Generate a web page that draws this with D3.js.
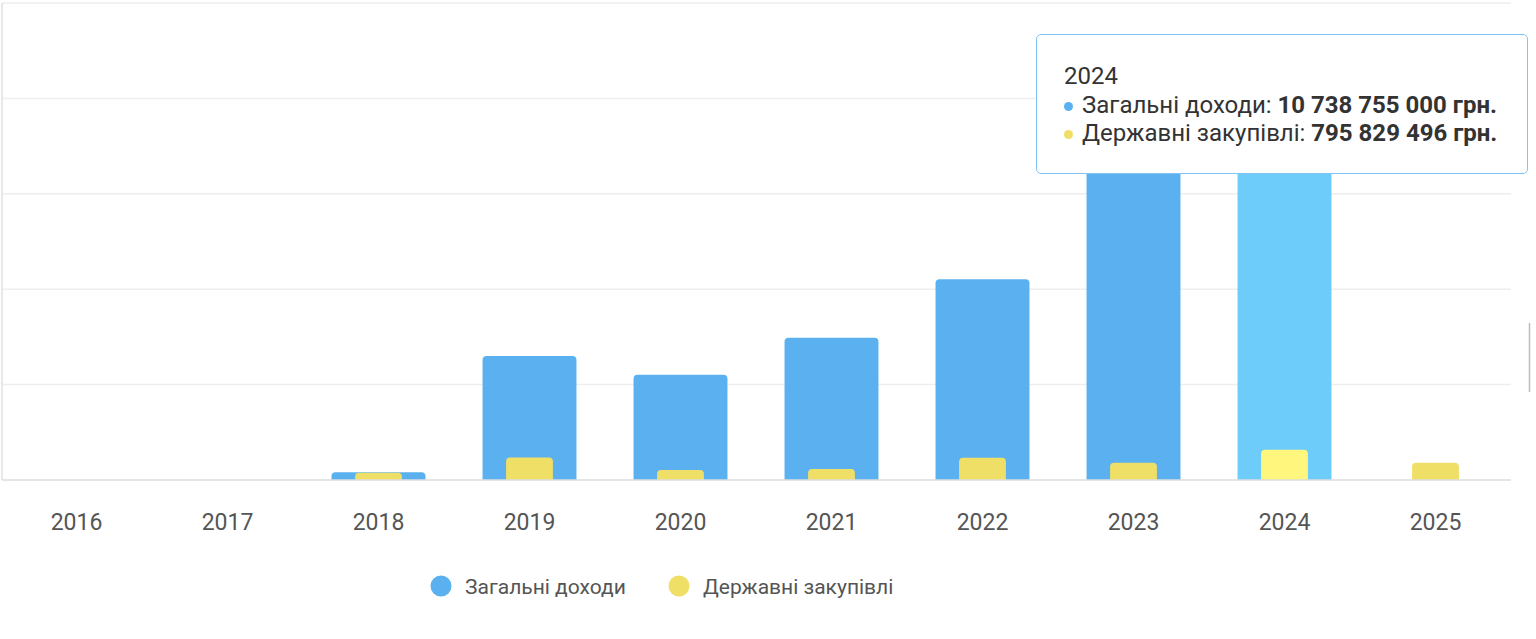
<!DOCTYPE html>
<html>
<head>
<meta charset="utf-8">
<script src="https://cdn.jsdelivr.net/npm/d3@7"></script>
<style>
  html, body { margin: 0; padding: 0; background: #fff; }
  body { width: 1536px; height: 639px; overflow: hidden; position: relative; font-family: Roboto, "Noto Sans", sans-serif; }
  #tooltip {
    position: absolute; left: 1036px; top: 34px; width: 492px; height: 140px;
    box-sizing: border-box; border: 1.5px solid #7fc4f4; border-radius: 5px; background: #fff;
    padding: 27px 0 0 27px; font-size: 24px; line-height: 28.5px; color: #333;
  }
  #tooltip .dot { display: inline-block; width: 9px; height: 9px; border-radius: 50%; margin-right: 9px; vertical-align: 2px; }
  #tooltip b { font-weight: 700; }
</style>
</head>
<body>
<svg id="chart" width="1536" height="639"></svg>
<div id="tooltip"></div>
<script>
// years on the x axis
const years = ["2016", "2017", "2018", "2019", "2020", "2021", "2022", "2023", "2024", "2025"];
// total income, UAH (2023 is hidden by the tooltip, estimated)
const incomeValues = [0, 0, 0.20e9, 3.25e9, 2.76e9, 3.73e9, 5.26e9, 9.0e9, 10738755000, 0];
// public procurement, UAH
const procurementValues = [0, 0, 0.19e9, 0.59e9, 0.26e9, 0.29e9, 0.58e9, 0.45e9, 795829496, 0.45e9];
const seriesNames = ["Загальні доходи", "Державні закупівлі"];
const seriesColors = ["#5bb1ef", "#f0df66"];
const hoverColors = ["#6dccf9", "#fff77d"];
const yTicks = [0, 2.5e9, 5e9, 7.5e9, 10e9, 12.5e9];
const hoveredYear = "2024";

const svg = d3.select("#chart");

// Set up the scales
const x = d3.scaleBand().domain(years).range([1, 1511]).padding(0);
const y = d3.scaleLinear().domain([0, 12.5e9]).range([480, 3]);

// Grid lines
svg.append("g")
  .selectAll("line")
  .data(yTicks.slice(1))
  .enter()
  .append("line")
  .attr("x1", 2).attr("x2", 1511)
  .attr("y1", d => y(d)).attr("y2", d => y(d))
  .attr("stroke", "#eeeeee")
  .attr("stroke-width", 1.5);

// left edge line
svg.append("line")
  .attr("x1", 2).attr("x2", 2)
  .attr("y1", y(12.5e9)).attr("y2", y(0))
  .attr("stroke", "#e8e8e8")
  .attr("stroke-width", 2);

// bar path with rounded top corners only
function topRounded(x0, y0, w, h, r)
{
  if (h <= 0) return "";
  r = Math.min(r, h, w / 2);
  return `M${ x0 },${ y0 + h }V${ y0 + r }Q${ x0 },${ y0 } ${ x0 + r },${ y0 }H${ x0 + w - r }Q${ x0 + w },${ y0 } ${ x0 + w },${ y0 + r }V${ y0 + h }Z`;
}

const bw = x.bandwidth();
const series = [
  { values: incomeValues, width: bw * 0.622 },
  { values: procurementValues, width: bw * 0.31 }
];

series.forEach((s, si) =>
{
  svg.append("g")
    .selectAll("path")
    .data(years.map((yr, i) => ({ year: yr, value: s.values[i] })))
    .enter()
    .append("path")
    .attr("d", d =>
    {
      const cx = x(d.year) + bw / 2;
      return topRounded(cx - s.width / 2, y(d.value), s.width, y(0) - y(d.value), 4);
    })
    .attr("fill", d => d.year === hoveredYear ? hoverColors[si] : seriesColors[si]);
});

// baseline
svg.append("line")
  .attr("x1", 2).attr("x2", 1511)
  .attr("y1", y(0)).attr("y2", y(0))
  .attr("stroke", "#dddddd")
  .attr("stroke-width", 1.5);

// x axis labels
const xAxis = d3.axisBottom(x).tickSize(0).tickPadding(34);
const gx = svg.append("g")
  .attr("transform", `translate(0, ${ y(0) })`)
  .call(xAxis);
gx.select(".domain").remove();
gx.selectAll("text")
  .style("font-family", "Roboto, sans-serif")
  .style("font-size", "23px")
  .attr("fill", "#555");

// Legend
const legend = svg.append("g");
const legendItems = [{ cx: 441, tx: 465 }, { cx: 679, tx: 703 }];
seriesNames.forEach((name, i) =>
{
  legend.append("circle")
    .attr("cx", legendItems[i].cx).attr("cy", 586).attr("r", 10.5)
    .attr("fill", seriesColors[i]);
  legend.append("text")
    .attr("x", legendItems[i].tx).attr("y", 594)
    .text(name)
    .style("font-family", "Roboto, sans-serif")
    .style("font-size", "21px")
    .attr("fill", "#555");
});

// small scroll marker on the right edge
svg.append("line")
  .attr("x1", 1529.5).attr("x2", 1529.5)
  .attr("y1", 323).attr("y2", 392)
  .attr("stroke", "#bdbdbd")
  .attr("stroke-width", 1.5);

// Tooltip for the hovered year
const fmt = v => d3.format(",")(Math.round(v)).replace(/,/g, " ");
const hi = years.indexOf(hoveredYear);
const tip = d3.select("#tooltip");
tip.append("div").text(hoveredYear);
[incomeValues, procurementValues].forEach((vals, i) =>
{
  const row = tip.append("div");
  row.append("span").attr("class", "dot").style("background", seriesColors[i]);
  row.append("span").text(seriesNames[i] + ": ");
  row.append("b").text(fmt(vals[hi]) + " грн.");
});
</script>
</body>
</html>
